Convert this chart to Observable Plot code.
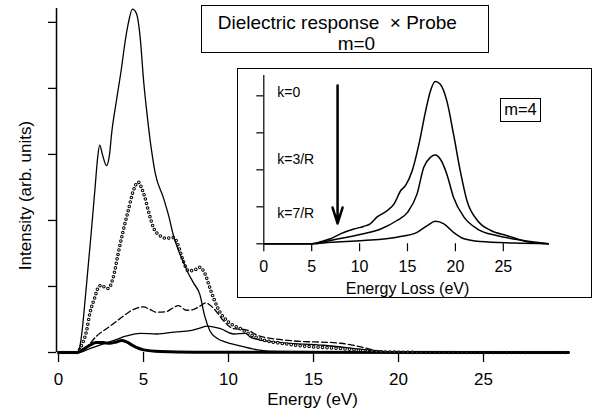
<!DOCTYPE html>
<html><head><meta charset="utf-8">
<script src="https://cdn.jsdelivr.net/npm/d3@7"></script>
<script src="https://cdn.jsdelivr.net/npm/@observablehq/plot@0.6"></script>
<style>
html,body{margin:0;padding:0;background:#fff;overflow:hidden;}
#wrap{position:relative;width:593px;height:414px;font-family:"Liberation Sans",Arial,Helvetica,sans-serif;color:#000;}
#main{position:absolute;left:0;top:0;}
#inset{position:absolute;left:237px;top:68px;width:355px;height:230px;background:#fff;}
#insetBorder{position:absolute;left:237px;top:68px;width:355px;height:230px;border:1.3px solid #000;box-sizing:border-box;pointer-events:none;}
#title{position:absolute;left:201px;top:5px;width:288px;height:48px;border:1.3px solid #000;box-sizing:border-box;background:#fff;font-size:19px;}
#title span{position:absolute;white-space:pre;line-height:19px;}
#mbox{position:absolute;left:500px;top:98px;width:41px;height:24px;border:1.3px solid #000;box-sizing:border-box;background:#fff;font-size:16.5px;text-align:center;line-height:21px;}
</style>
</head><body>
<div id="wrap">
  <div id="main"></div>
  <div id="title"><span id="t1" style="left:15.7px;top:7px;"></span><span id="t2" style="left:135.7px;top:27.6px;"></span></div>
  <div id="inset"></div>
  <div id="insetBorder"></div>
  <div id="mbox"></div>
</div>
<script>
// ---------- text ----------
const titleLine1 = "Dielectric response  \u00d7 Probe";
const titleLine2 = "m=0";
const insetTag = "m=4";
const mainXLabel = "Energy (eV)";
const mainYLabel = "Intensity (arb. units)";
const insetXLabel = "Energy Loss (eV)";

// ---------- main panel ticks ----------
const mainXTicks = [0, 5, 10, 15, 20, 25];
const mainYTicks = [0, 1, 2, 3, 4, 5];
const mainXDomain = [-0.12, 30];
const mainYDomain = [0, 5.21];

// ---------- main panel series: [energy eV, intensity] ----------
const curveSolidTop = [[0,0],[1.1,0],[1.2,0.03],[1.35,0.25],[1.6,0.9],[1.9,1.75],[2.15,2.5],[2.3,2.95],[2.42,3.14],[2.58,3.0],[2.82,2.83],[3.0,3.0],[3.12,3.31],[3.41,3.82],[3.71,4.32],[3.9,4.68],[4.1,4.98],[4.35,5.2],[4.59,5.13],[4.78,4.83],[5.02,4.07],[5.18,3.67],[5.47,3.06],[5.7,2.7],[6.16,2.35],[6.5,2.05],[6.75,1.78],[7.05,1.55],[7.33,1.38],[7.63,1.2],[7.95,1.05],[8.31,0.88],[8.6,0.55],[8.9,0.33],[9.3,0.22],[9.8,0.16],[10.5,0.11],[11.7,0.04],[13,0.015],[20,0.005],[30,0]];
const curveDotted = [[0,0],[1.1,0],[1.3,0.08],[1.65,0.33],[1.84,0.59],[2.13,0.83],[2.33,0.98],[2.53,1.02],[2.75,0.98],[2.92,0.97],[3.22,1.14],[3.51,1.5],[3.81,1.85],[4.1,2.15],[4.4,2.45],[4.69,2.58],[4.9,2.48],[5.08,2.35],[5.28,2.15],[5.57,1.9],[5.96,1.77],[6.35,1.73],[6.78,1.74],[7.04,1.62],[7.33,1.39],[7.63,1.24],[7.92,1.24],[8.3,1.29],[8.6,1.2],[8.94,0.95],[9.41,0.65],[10.0,0.46],[10.7,0.36],[11.1,0.3],[11.7,0.22],[13.65,0.12],[16.6,0.06],[19,0.01],[22,0],[30,0]];
const curveDashed = [[0,0],[1.2,0],[1.45,0.03],[1.8,0.12],[2.24,0.25],[2.82,0.36],[3.3,0.45],[3.8,0.55],[4.39,0.65],[4.98,0.69],[5.4,0.65],[5.76,0.61],[6.35,0.62],[6.7,0.67],[7.04,0.71],[7.53,0.64],[7.92,0.65],[8.3,0.7],[8.65,0.75],[9.12,0.67],[9.71,0.48],[10.3,0.36],[10.88,0.35],[11.2,0.33],[11.7,0.26],[13.65,0.18],[16.6,0.14],[18.2,0.06],[19,0.01],[22,0],[30,0]];
const curveSolidLow = [[0,0],[1.2,0],[1.84,0.06],[2.5,0.12],[3.22,0.18],[4.0,0.25],[4.8,0.29],[5.8,0.28],[6.8,0.31],[7.76,0.33],[8.3,0.37],[8.75,0.4],[9.53,0.36],[10.3,0.28],[11.0,0.29],[11.3,0.23],[12.65,0.16],[15.6,0.11],[18.5,0.03],[20,0],[30,0]];
const curveThick = [[0,0],[1.1,0],[1.4,0.04],[1.84,0.11],[2.2,0.15],[2.6,0.15],[3.0,0.14],[3.4,0.16],[3.7,0.18],[4.0,0.16],[4.4,0.1],[5.0,0.04],[6,0.015],[8,0.005],[30,0]];

// ---------- inset ticks ----------
const insetXTicks = [0, 5, 10, 15, 20, 25];
const insetYTicks = [0, 1, 2, 3, 4];
const insetXDomain = [0, 30];
const insetYDomain = [0, 4.55];

// ---------- inset series: [energy loss eV, intensity] ----------
const insetK0 = [[0,0],[5,0],[6.0,0.06],[6.96,0.135],[8.0,0.27],[9.4,0.4],[10.4,0.47],[11.1,0.54],[11.8,0.72],[12.9,0.9],[13.6,1.08],[14.3,1.44],[14.8,1.58],[15.5,1.98],[16.2,2.7],[16.9,3.6],[17.4,4.14],[17.9,4.39],[18.4,4.32],[19.1,3.87],[19.8,2.97],[20.5,1.98],[21.2,1.17],[22.3,0.63],[23.7,0.36],[25.4,0.22],[27.8,0.04],[29.7,0]];
const insetK3 = [[0,0],[5,0],[6.0,0.04],[6.96,0.09],[8.7,0.18],[10.4,0.27],[12.2,0.4],[13.9,0.63],[15.0,0.85],[16.0,1.35],[16.7,2.07],[17.4,2.34],[17.9,2.4],[18.4,2.3],[19.1,1.89],[19.8,1.26],[20.9,0.72],[22.3,0.4],[24.4,0.22],[27.1,0.09],[29.7,0]];
const insetK7 = [[0,0],[5,0],[6.96,0.04],[10.4,0.09],[13.9,0.18],[16.0,0.31],[17.1,0.5],[17.9,0.61],[18.8,0.54],[19.8,0.31],[20.9,0.135],[22.6,0.06],[26.1,0.02],[29.7,0]];

// inset annotations (data coordinates)
const insetLabels = [
  {x: 1.4, y: 4.09, text: "k=0"},
  {x: 1.4, y: 2.28, text: "k=3/R"},
  {x: 1.4, y: 0.83, text: "k=7/R"}
];
const insetArrow = [{x1: 7.7, y1: 4.28, x2: 7.7, y2: 0.55}];

const FONT = '"Liberation Sans", Arial, Helvetica, sans-serif';
const curve = "monotone-x";
const px = d => d[0], py = d => d[1];

document.getElementById("t1").textContent = titleLine1;
document.getElementById("t2").textContent = titleLine2;
document.getElementById("mbox").textContent = insetTag;

const main = Plot.plot({
  width: 593, height: 414,
  marginLeft: 56, marginRight: 25, marginTop: 8, marginBottom: 62,
  style: {fontFamily: FONT, fontSize: "17px", background: "white", color: "black", overflow: "visible"},
  x: {domain: mainXDomain},
  y: {domain: mainYDomain},
  marks: [
    Plot.ruleX([mainXDomain[0]], {strokeWidth: 1.5}),
    Plot.axisY({ticks: mainYTicks, tickSize: 8, tickFormat: () => "", label: null, strokeWidth: 1.3}),
    Plot.axisX({ticks: mainXTicks, tickSize: 10, tickPadding: 10, fontSize: 17, label: null, strokeWidth: 1.3}),
    Plot.text([mainXLabel], {frameAnchor: "bottom", dy: 52, fontSize: 17}),
    Plot.text([mainYLabel], {frameAnchor: "left", textAnchor: "middle", lineAnchor: "middle", dx: -31, dy: 15, rotate: -90, fontSize: 17}),
    Plot.line(curveThick, {x: px, y: py, curve, stroke: "black", strokeWidth: 3}),
    Plot.line(curveSolidLow, {x: px, y: py, curve, stroke: "black", strokeWidth: 1.3}),
    Plot.line(curveDashed, {x: px, y: py, curve, stroke: "black", strokeWidth: 1.3, strokeDasharray: "6,3"}),
    Plot.line(curveDotted, {x: px, y: py, curve, stroke: "black", strokeWidth: 3.6, strokeDasharray: "0,4.5", strokeLinecap: "round"}),
    Plot.line(curveDotted, {x: px, y: py, curve, stroke: "white", strokeWidth: 1.6, strokeDasharray: "0,4.5", strokeLinecap: "round"}),
    Plot.line(curveSolidTop, {x: px, y: py, curve, stroke: "black", strokeWidth: 1.3})
  ]
});
document.getElementById("main").appendChild(main);

const inset = Plot.plot({
  width: 355, height: 230,
  marginLeft: 26.3, marginRight: 41.3, marginTop: 7, marginBottom: 54.7,
  style: {fontFamily: FONT, fontSize: "16px", background: "white", color: "black", overflow: "visible"},
  x: {domain: insetXDomain},
  y: {domain: insetYDomain},
  marks: [
    Plot.ruleX([insetXDomain[0]], {strokeWidth: 1.2}),
    Plot.axisY({ticks: insetYTicks, tickSize: 7, tickFormat: () => "", label: null, strokeWidth: 1.2}),
    Plot.axisX({ticks: insetXTicks, tickSize: 8, tickPadding: 9, fontSize: 16, label: null, strokeWidth: 1.2}),
    Plot.text([insetXLabel], {frameAnchor: "bottom", dy: 50, fontSize: 16}),
    Plot.line(insetK7, {x: px, y: py, curve, stroke: "black", strokeWidth: 1.5}),
    Plot.line(insetK3, {x: px, y: py, curve, stroke: "black", strokeWidth: 1.5}),
    Plot.line(insetK0, {x: px, y: py, curve, stroke: "black", strokeWidth: 1.5}),
    Plot.arrow(insetArrow, {x1: "x1", y1: "y1", x2: "x2", y2: "y2", strokeWidth: 2.5, headLength: 10, headAngle: 35, stroke: "black"}),
    Plot.text(insetLabels, {x: "x", y: "y", text: "text", textAnchor: "start", fontSize: 14, fill: "black"})
  ]
});
document.getElementById("inset").appendChild(inset);
</script>
</body></html>
